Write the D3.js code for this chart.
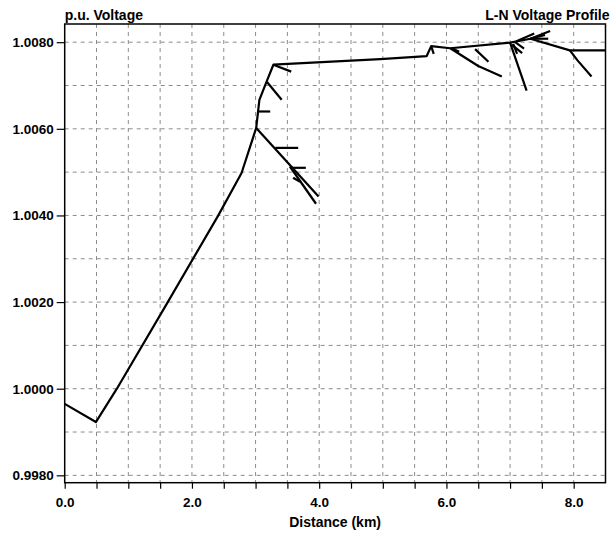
<!DOCTYPE html>
<html>
<head>
<meta charset="utf-8">
<script src="https://cdn.jsdelivr.net/npm/d3@7"></script>
<style>
  body { margin: 0; background: #fff; }
  text { font-family: "Liberation Sans", Arial, sans-serif; font-weight: bold; fill: #000; }
</style>
</head>
<body>
<script>
// axis labels
const yTicks = [0.998, 1.000, 1.002, 1.004, 1.006, 1.008]
const xTicks = [0, 2, 4, 6, 8]

// feeder trunk [km, p.u.]
const trunk = [
  [0, 0.99965], [0.49, 0.99923], [0.82, 1.0000], [1.62, 1.0020],
  [2.41, 1.00399], [2.78, 1.00498], [3.01, 1.00602], [3.06, 1.00667],
  [3.17, 1.00708], [3.28, 1.00748], [4.96, 1.00761], [5.69, 1.00768],
  [5.76, 1.00791], [6.06, 1.00786], [7.00, 1.00799], [7.32, 1.00808],
  [7.94, 1.00781], [8.5, 1.00781]
]

// laterals
const lateralA = [[3.01, 1.00602], [3.99, 1.00444]]
const lateralB = [[3.54, 1.00513], [3.95, 1.00427]]
const lateral6a = [[6.06, 1.00786], [6.50, 1.00745], [6.87, 1.00721]]
const lateral6b = [[6.45, 1.00784], [6.66, 1.00755]]
const lateral7 = [[7.00, 1.00799], [7.26, 1.00688]]
const lateral8 = [[7.94, 1.00781], [8.06, 1.00758], [8.28, 1.00721]]

// short stubs
const stubs = [
  [[3.31, 1.00556], [3.67, 1.00556]],
  [[3.54, 1.00510], [3.79, 1.00510]],
  [[3.59, 1.00487], [3.70, 1.00478]],
  [[3.04, 1.00640], [3.23, 1.00640]],
  [[3.18, 1.00708], [3.41, 1.00667]],
  [[3.28, 1.00748], [3.56, 1.00732]],
  [[5.76, 1.00791], [5.80, 1.00773]],
  [[6.10, 1.00785], [6.20, 1.00778]],
  [[7.03, 1.00794], [7.19, 1.00775]],
  [[7.05, 1.00796], [7.11, 1.00773]],
  [[7.08, 1.00800], [7.22, 1.00785]],
  [[7.32, 1.00808], [7.63, 1.00826]],
  [[7.32, 1.00808], [7.55, 1.00817]],
  [[7.35, 1.00808], [7.60, 1.00808]],
  [[7.10, 1.00802], [7.38, 1.00820]]
]

const width = 615,
  height = 533,
  plotLeft = 64.7,
  plotRight = 605.5,
  plotTop = 24,
  plotBottom = 482.7

const svg = d3.select("body")
  .append("svg")
  .attr("width", width)
  .attr("height", height)

const x = d3.scaleLinear().domain([0, 8.5]).range([plotLeft, plotRight])
const y = d3.scaleLinear().domain([0.99783, 1.00842]).range([plotBottom, plotTop])

// grid
svg.append("g")
  .selectAll("line")
  .data(d3.range(0.5, 8.5, 0.5))
  .join("line")
  .attr("x1", d => x(d)).attr("x2", d => x(d))
  .attr("y1", plotTop).attr("y2", plotBottom)
  .attr("stroke", "#8c8c8c")
  .attr("stroke-dasharray", "4,4")
svg.append("g")
  .selectAll("line")
  .data(d3.range(0.998, 1.0085, 0.001))
  .join("line")
  .attr("x1", plotLeft).attr("x2", plotRight)
  .attr("y1", d => y(d)).attr("y2", d => y(d))
  .attr("stroke", "#8c8c8c")
  .attr("stroke-dasharray", "4,4")

// axes
svg.append("g")
  .attr("transform", `translate(0,${plotBottom})`)
  .call(d3.axisBottom(x).tickValues(d3.range(0, 8.5, 0.5)).tickSize(6).tickFormat(""))
  .call(g => g.select(".domain").remove())
  .call(g => g.selectAll("line").attr("stroke", "#000").attr("stroke-width", 1.2))
svg.append("g")
  .attr("transform", `translate(0,${plotBottom})`)
  .call(d3.axisBottom(x).tickValues(xTicks).tickSize(0).tickPadding(15).tickFormat(d3.format(".1f")))
  .call(g => g.select(".domain").remove())
  .call(g => g.selectAll("text").attr("font-size", 13.5).style("font-family", null))
svg.append("g")
  .attr("transform", `translate(${plotLeft},0)`)
  .call(d3.axisLeft(y).tickValues(yTicks).tickSize(8).tickPadding(3).tickFormat(d3.format(".4f")))
  .call(g => g.select(".domain").remove())
  .call(g => g.selectAll("line").attr("stroke", "#000").attr("stroke-width", 1.2))
  .call(g => g.selectAll("text").attr("font-size", 13.5).style("font-family", null))

// frame
svg.append("rect")
  .attr("x", plotLeft).attr("y", plotTop)
  .attr("width", plotRight - plotLeft).attr("height", plotBottom - plotTop)
  .attr("fill", "none")
  .attr("stroke", "#000")
  .attr("stroke-width", 1.5)

// profile
const line = d3.line().x(d => x(d[0])).y(d => y(d[1]))
const paths = [trunk, lateralA, lateralB, lateral6a, lateral6b, lateral7, lateral8].concat(stubs)
svg.append("g")
  .selectAll("path")
  .data(paths)
  .join("path")
  .attr("d", line)
  .attr("fill", "none")
  .attr("stroke", "#000")
  .attr("stroke-width", 2.2)
  .attr("stroke-linejoin", "round")

// titles
svg.append("text").text("p.u. Voltage")
  .attr("x", plotLeft).attr("y", 19.5).attr("font-size", 14)
svg.append("text").text("L-N Voltage Profile")
  .attr("x", plotRight + 4).attr("y", 19.5).attr("font-size", 14)
  .attr("text-anchor", "end")
svg.append("text").text("Distance (km)")
  .attr("x", (plotLeft + plotRight) / 2).attr("y", 527).attr("font-size", 14)
  .attr("text-anchor", "middle")
</script>
</body>
</html>
